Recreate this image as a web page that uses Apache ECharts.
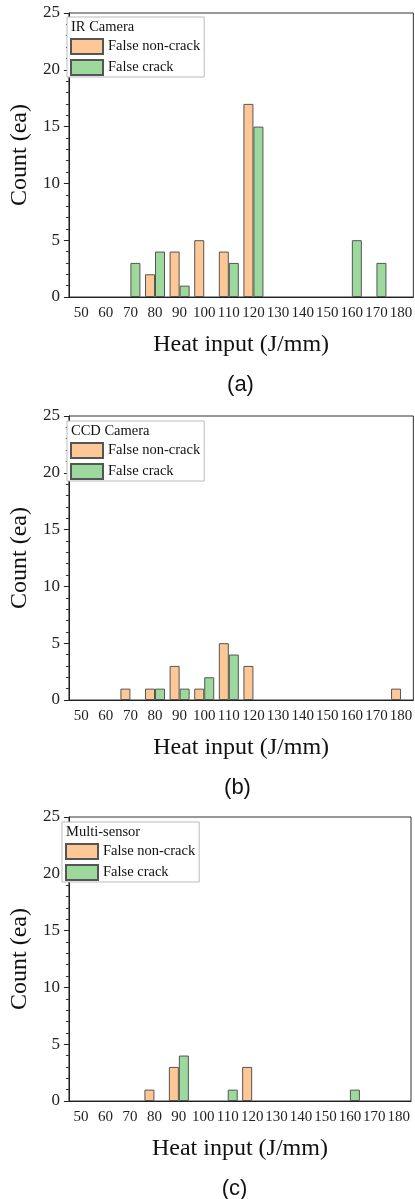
<!DOCTYPE html>
<html>
<head>
<meta charset="utf-8">
<script src="https://cdn.jsdelivr.net/npm/echarts@6/dist/echarts.min.js"></script>
<style>
  html, body { margin: 0; padding: 0; background: #fff; }
  #main { width: 415px; height: 1199px; }
</style>
</head>
<body>
<div id="main"></div>
<script>
// heat input classes (J/mm)
const heatInput = ['50', '60', '70', '80', '90', '100', '110', '120', '130', '140', '150', '160', '170', '180'];
const countTicks = [0, 5, 10, 15, 20, 25];

// (a) IR camera
const irNonCrack = [0, 0, 0, 2, 4, 5, 4, 17, 0, 0, 0, 0, 0, 0];
const irCrack = [0, 0, 3, 4, 1, 0, 3, 15, 0, 0, 0, 5, 3, 0];
// (b) CCD camera
const ccdNonCrack = [0, 0, 1, 1, 3, 1, 5, 3, 0, 0, 0, 0, 0, 1];
const ccdCrack = [0, 0, 0, 1, 1, 2, 4, 0, 0, 0, 0, 0, 0, 0];
// (c) multi-sensor
const multiNonCrack = [0, 0, 0, 1, 3, 0, 0, 3, 0, 0, 0, 0, 0, 0];
const multiCrack = [0, 0, 0, 0, 4, 0, 1, 0, 0, 0, 0, 1, 0, 0];

const panelNames = ['IR Camera', 'CCD Camera', 'Multi-sensor'];
const panelTags = ['(a)', '(b)', '(c)'];
const seriesNames = ['False non-crack', 'False crack'];

const serif = '"Liberation Serif", "DejaVu Serif", serif';
const sans = '"Liberation Sans", Arial, sans-serif';
const orange = '#fdc896';
const green = '#9dd99d';

// panel layout: plot box left/top, legend box left/top
const panels = [
  { left: 64, top: 13, legendLeft: 67, legendTop: 17 },
  { left: 61, top: 416, legendLeft: 67, legendTop: 421 },
  { left: 58, top: 817, legendLeft: 62, legendTop: 822 }
];
const plotW = 353, plotH = 284;
const panelData = [[irNonCrack, irCrack], [ccdNonCrack, ccdCrack], [multiNonCrack, multiCrack]];

const chart = echarts.init(document.getElementById('main'), null, { renderer: 'canvas' });

const grid = [], xAxis = [], yAxis = [], legend = [], series = [], graphic = [];

panels.forEach(function (p, i) {
  grid.push({
    left: p.left, top: p.top, width: plotW, height: plotH,
    show: true, borderColor: '#333', borderWidth: 1, backgroundColor: 'transparent'
  });
  xAxis.push({
    type: 'category', gridIndex: i, data: heatInput, boundaryGap: true,
    name: 'Heat input (J/mm)', nameLocation: 'middle', nameGap: 36,
    nameTextStyle: { fontFamily: serif, fontSize: 24, color: '#111' },
    axisLine: { lineStyle: { color: '#222', width: 1 } },
    axisTick: { alignWithLabel: true, length: 5, lineStyle: { color: '#222' } },
    axisLabel: { fontFamily: serif, fontSize: 15, color: '#222', margin: 9, interval: 0 },
    splitLine: { show: false }
  });
  yAxis.push({
    type: 'value', gridIndex: i, min: countTicks[0], max: countTicks[countTicks.length - 1], interval: 5,
    name: 'Count (ea)', nameLocation: 'middle', nameGap: 28,
    nameTextStyle: { fontFamily: serif, fontSize: 24, color: '#111' },
    axisLine: { show: true, lineStyle: { color: '#222', width: 1 } },
    axisTick: { show: true, length: 5, lineStyle: { color: '#222' } },
    minorTick: { show: true, splitNumber: 5, length: 3, lineStyle: { color: '#333' } },
    axisLabel: { fontFamily: serif, fontSize: 17, color: '#222', margin: 9 },
    splitLine: { show: false }
  });
  legend.push({
    data: seriesNames, orient: 'vertical', left: p.legendLeft, top: p.legendTop,
    padding: [21, 4, 1, 3], itemGap: 4, itemWidth: 32, itemHeight: 15, icon: 'rect',
    borderColor: '#bbb', borderWidth: 1, backgroundColor: '#fff',
    textStyle: { fontFamily: serif, fontSize: 14.5, color: '#111' }
  });
  graphic.push({
    type: 'text', left: p.legendLeft + 4, top: p.legendTop + 3, z: 100,
    style: { text: panelNames[i], font: '14.5px ' + serif, fill: '#111' }
  });
  graphic.push({
    type: 'text', x: p.left + plotW / 2, y: p.top + plotH + 88, z: 100,
    style: { text: panelTags[i], font: '22px ' + sans, fill: '#111', textAlign: 'center', textVerticalAlign: 'middle' }
  });
  [orange, green].forEach(function (c, k) {
    series.push({
      name: seriesNames[k], type: 'bar', xAxisIndex: i, yAxisIndex: i,
      // empty classes are left undrawn
      data: panelData[i][k].map(function (v) { return v === 0 ? '-' : v; }),
      barWidth: 10, barGap: '0%',
      itemStyle: { color: c, borderColor: '#555', borderWidth: 1 },
      emphasis: { disabled: true }, animation: false
    });
  });
});

chart.setOption({
  backgroundColor: '#fff',
  animation: false,
  grid: grid,
  xAxis: xAxis,
  yAxis: yAxis,
  legend: legend,
  graphic: graphic,
  series: series
});
</script>
</body>
</html>
